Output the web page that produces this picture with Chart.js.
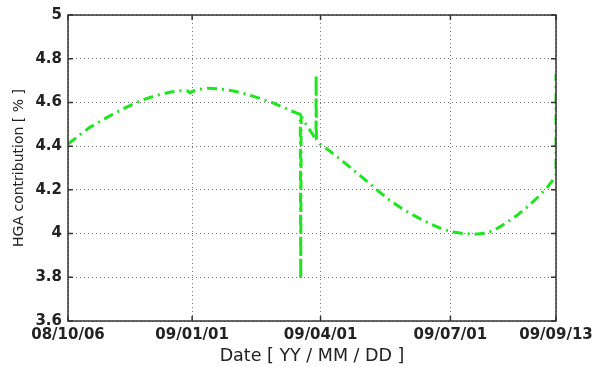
<!DOCTYPE html>
<html>
<head>
<meta charset="utf-8">
<script src="https://cdn.jsdelivr.net/npm/chart.js@4/dist/chart.umd.min.js"></script>
<style>
  html, body { margin: 0; padding: 0; background: #fff; }
  canvas { display: block; }
</style>
</head>
<body>
<canvas id="c" width="593" height="367"></canvas>
<script>
// x ticks: days since 2008-10-06
const tickDays = [0, 87, 177, 268, 342];
const tickLabels = ['08/10/06', '09/01/01', '09/04/01', '09/07/01', '09/09/13'];
const yTicks = [3.6, 3.8, 4, 4.2, 4.4, 4.6, 4.8, 5];

// series: days since 2008-10-06 and HGA contribution [%]
const days = [0, 8, 15, 23, 31, 40, 48, 56, 64, 72, 78, 84, 85.5, 87, 92, 98, 106, 114, 121, 128, 136, 144, 150, 156,
  162.8, 163.1, 163.4, 173.8, 173.9, 174.1, 176.6, 183, 192.7, 200, 206.7, 216.5, 225, 232.7, 239, 244.6, 253.7, 260,
  265.6, 271, 276.8, 285, 292, 298, 306.2, 314, 321.6, 329, 335.7, 339.9, 342, 342];
const hga = [4.41, 4.45, 4.485, 4.515, 4.545, 4.575, 4.60, 4.62, 4.635, 4.648, 4.654, 4.652, 4.644, 4.65, 4.66, 4.665, 4.662, 4.655, 4.645, 4.632, 4.615, 4.597, 4.58, 4.562,
  4.545, 3.79, 4.535, 4.43, 4.725, 4.43, 4.41, 4.38, 4.33, 4.29, 4.255, 4.20, 4.155, 4.12, 4.095, 4.075, 4.045, 4.027,
  4.015, 4.006, 4.0, 3.997, 4.002, 4.012, 4.045, 4.08, 4.12, 4.165, 4.21, 4.245, 4.27, 4.73];

const FONT = "'DejaVu Sans', sans-serif";

const framePlugin = {
  id: 'frame',
  afterDraw(chart) {
    const {ctx, chartArea: a, scales} = chart;
    ctx.save();
    ctx.strokeStyle = '#333';
    ctx.lineWidth = 1.5;
    ctx.beginPath();
    const tl = 5;
    tickDays.forEach(v => {
      const x = scales.x.getPixelForValue(v);
      ctx.moveTo(x, a.bottom); ctx.lineTo(x, a.bottom - tl);
      ctx.moveTo(x, a.top); ctx.lineTo(x, a.top + tl);
    });
    yTicks.forEach(v => {
      const y = scales.y.getPixelForValue(v);
      ctx.moveTo(a.left, y); ctx.lineTo(a.left + tl, y);
      ctx.moveTo(a.right, y); ctx.lineTo(a.right - tl, y);
    });
    ctx.stroke();
    ctx.strokeRect(a.left, a.top, a.right - a.left, a.bottom - a.top);
    ctx.restore();
  }
};

new Chart(document.getElementById('c'), {
  type: 'line',
  data: {
    datasets: [{
      data: days.map((d, i) => ({x: d, y: hga[i]})),
      borderColor: 'rgb(30,230,30)',
      borderWidth: 3,
      borderDash: [10, 5, 2, 5],
      pointRadius: 0,
      tension: 0,
      fill: false
    }]
  },
  options: {
    responsive: false,
    animation: false,
    layout: { padding: { top: 15, right: 37, left: 0, bottom: 0 } },
    plugins: { legend: { display: false }, tooltip: { enabled: false } },
    scales: {
      x: {
        type: 'linear',
        min: 0, max: 342,
        afterBuildTicks(scale) { scale.ticks = tickDays.map(v => ({value: v})); },
        afterFit(scale) { scale.height = 46; scale.paddingLeft = 0; scale.paddingRight = 0; },
        ticks: {
          callback(v) { const i = tickDays.indexOf(v); return i >= 0 ? tickLabels[i] : ''; },
          font: { family: FONT, size: 15, weight: 'bold' },
          color: '#222',
          padding: 5,
          maxRotation: 0,
          autoSkip: false
        },
        grid: { color: '#777', lineWidth: 1, drawTicks: false },
        border: { display: false, dash: [1, 3] },
        title: {
          display: true,
          text: 'Date [ YY / MM / DD ]',
          font: { family: FONT, size: 17.5 },
          color: '#222',
          padding: { top: 0, bottom: 0 }
        }
      },
      y: {
        min: 3.6, max: 5,
        afterBuildTicks(scale) { scale.ticks = yTicks.map(v => ({value: v})); },
        afterFit(scale) { scale.width = 68; scale.paddingTop = 0; scale.paddingBottom = 0; },
        ticks: {
          callback(v) { return String(v); },
          font: { family: FONT, size: 15, weight: 'bold' },
          color: '#222',
          padding: 6
        },
        grid: { color: '#777', lineWidth: 1, drawTicks: false },
        border: { display: false, dash: [1, 3] },
        title: {
          display: true,
          text: 'HGA contribution [ % ]',
          font: { family: FONT, size: 14 },
          color: '#222',
          padding: { top: 11, bottom: 0 }
        }
      }
    }
  },
  plugins: [framePlugin]
});
</script>
</body>
</html>
